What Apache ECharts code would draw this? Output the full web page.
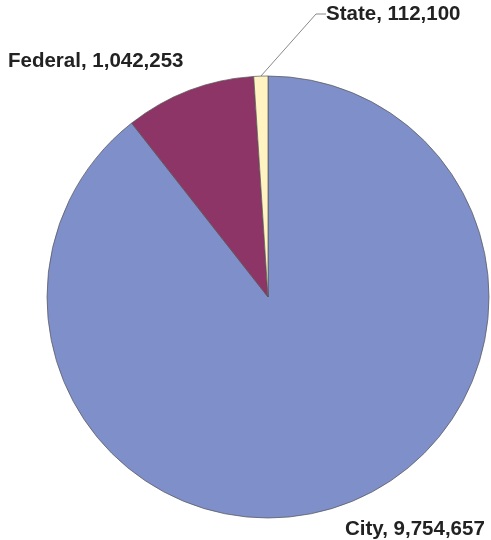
<!DOCTYPE html>
<html>
<head>
<meta charset="utf-8">
<script src="https://cdn.jsdelivr.net/npm/echarts@6/dist/echarts.min.js"></script>
<style>
  html, body { margin: 0; padding: 0; background: #fff; }
  #chart { width: 491px; height: 540px; }
</style>
</head>
<body>
<div id="chart"></div>
<script>
// funding sources, clockwise from 12 o'clock
const sources = ["City", "Federal", "State"];
const amounts = [9754657, 1042253, 112100];
const colors = ["#7f8fc9", "#8e3567", "#fff3c2"];

// where each label sits (left edge, vertical middle)
const labelSpots = [
    { x: 345, y: 529 },
    { x: 8, y: 61 },
    { x: 326, y: 14 }
];

let chart = echarts.init(document.getElementById("chart"));

let option = {
    animation: false,
    series: [
        {
            type: "pie",
            center: [268, 297],
            radius: 221,
            startAngle: 90,
            clockwise: true,
            data: sources.map(function (name, i) {
                return {
                    name: name,
                    value: amounts[i],
                    itemStyle: { color: colors[i] },
                    labelLine: { show: i === 2 }
                };
            }),
            itemStyle: {
                borderColor: "#555",
                borderWidth: 0.7
            },
            label: {
                show: true,
                overflow: "none",
                width: 300,
                formatter: function (p) {
                    return p.name + ", " + p.value.toLocaleString("en-US");
                },
                fontFamily: "Liberation Sans, Arial, sans-serif",
                fontWeight: "bold",
                fontSize: 20.5,
                color: "#222"
            },
            labelLine: {
                length: 20,
                length2: 10,
                lineStyle: { color: "#888", width: 1 }
            },
            labelLayout: function (params) {
                let spot = labelSpots[params.dataIndex];
                return {
                    x: spot.x,
                    y: spot.y,
                    align: "left",
                    verticalAlign: "middle"
                };
            }
        }
    ]
};

chart.setOption(option);
</script>
</body>
</html>
